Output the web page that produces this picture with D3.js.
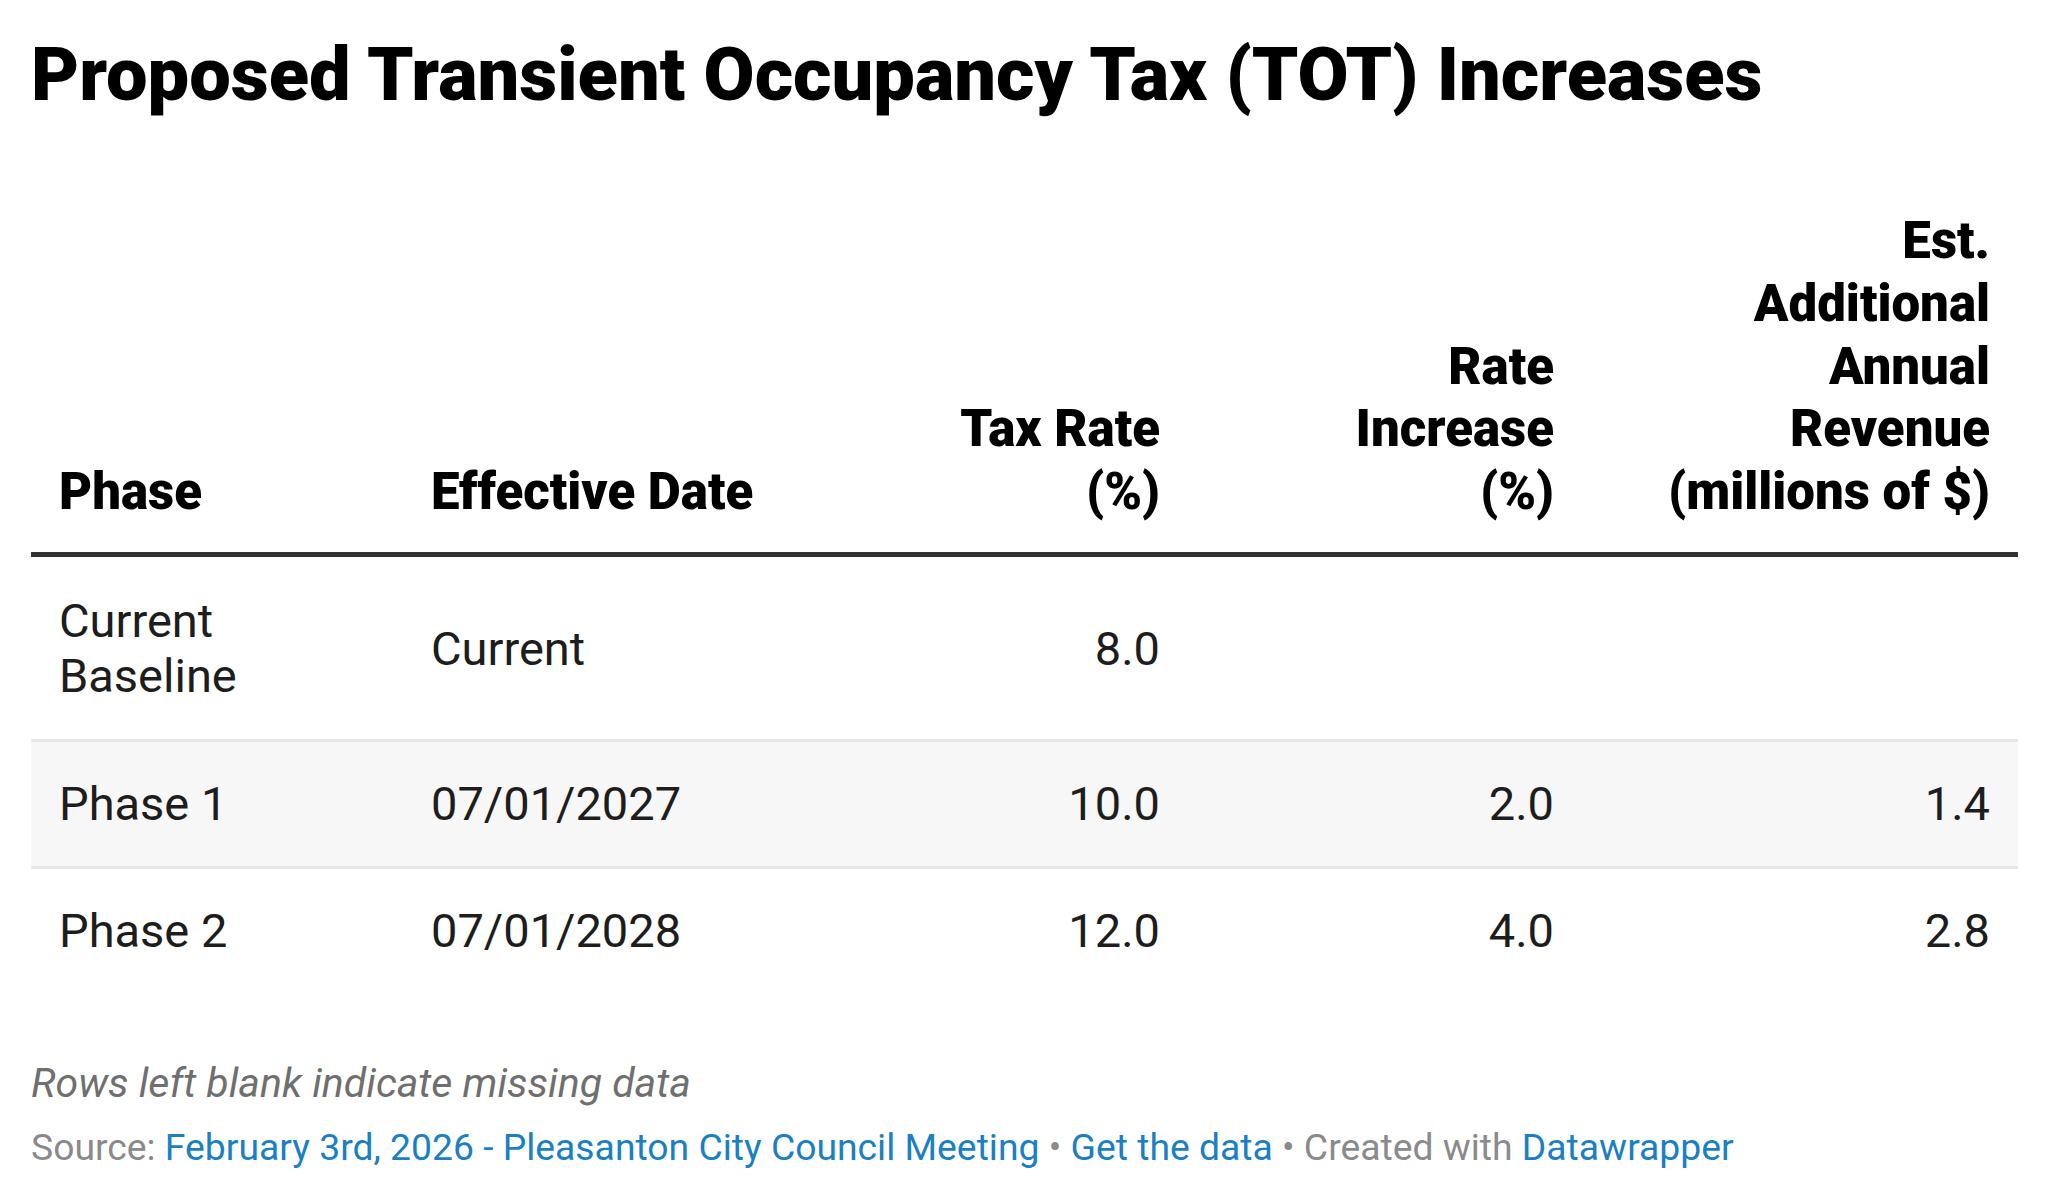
<!DOCTYPE html>
<html><head><meta charset="utf-8">
<script src="https://cdn.jsdelivr.net/npm/d3@7"></script>
<style>body{margin:0;background:#fff}svg{display:block}text{font-family:Roboto,sans-serif}</style>
</head><body><svg id="c" width="2048" height="1198"></svg>
<script>
const title = "Proposed Transient Occupancy Tax (TOT) Increases";
const columns = [["Phase"],["Effective Date"],["Tax Rate","(%)"],["Rate","Increase","(%)"],["Est.","Additional","Annual","Revenue","(millions of $)"]];
const phases = [["Current","Baseline"],["Phase 1"],["Phase 2"]];
const dates = ["Current","07/01/2027","07/01/2028"];
const taxRate = [8.0,10.0,12.0];
const rateIncrease = [null,2.0,4.0];
const revenue = [null,1.4,2.8];
const note = "Rows left blank indicate missing data";

const svg = d3.select("#c");
const colX = [59,431,1160,1554,1990];
const colAnchor = ["start","start","end","end","end"];
svg.append("text").attr("x",31).attr("y",100).attr("font-size",74).attr("font-weight",900).attr("fill","#000").text(title);

// header
const hLine = 62.7, hBase = 509;
columns.forEach((lines,i)=>{
  const n=lines.length;
  lines.forEach((l,j)=>{
    svg.append("text").attr("x",colX[i]).attr("y",hBase-(n-1-j)*hLine)
      .attr("text-anchor",colAnchor[i]).attr("font-size",51).attr("font-weight",900).attr("fill","#000").text(l);
  });
});
svg.append("rect").attr("x",31).attr("y",552).attr("width",1987).attr("height",5).attr("fill","#333");

// rows
const rowTop=[557,740,867], rowBot=[740,867,995];
const y = d3.scaleOrdinal().domain([0,1,2]).range([0,1,2].map(i=>(rowTop[i]+rowBot[i])/2));
[0,1,2].forEach(i=>{
  if(i===1) svg.append("rect").attr("x",31).attr("y",rowTop[i]).attr("width",1987).attr("height",rowBot[i]-rowTop[i]).attr("fill","#f7f7f7");
  if(i>0) svg.append("rect").attr("x",31).attr("y",rowTop[i]-1).attr("width",1987).attr("height",3).attr("fill","#e6e6e6");
  const cy=y(i);
  const cells=[phases[i],[dates[i]],[d3.format(".1f")(taxRate[i])],
    [rateIncrease[i]==null?"":d3.format(".1f")(rateIncrease[i])],
    [revenue[i]==null?"":d3.format(".1f")(revenue[i])]];
  cells.forEach((lines,c)=>{
    const n=lines.length, lh=55;
    lines.forEach((l,j)=>{
      svg.append("text").attr("x",colX[c]).attr("y",cy+(j-(n-1)/2)*lh).attr("dy","0.35em")
        .attr("text-anchor",colAnchor[c]).attr("font-size",47).attr("fill","#1d1d1d").text(l);
    });
  });
});

svg.append("text").attr("x",31).attr("y",1097).attr("font-size",41).attr("font-style","italic").attr("fill","#6f6f6f").text(note);
const src = svg.append("text").attr("x",31).attr("y",1160).attr("font-size",37.3);
[["Source: ","#8a8a8a"],["February 3rd, 2026 - Pleasanton City Council Meeting","#1a7fc4"],[" • ","#8a8a8a"],["Get the data","#1a7fc4"],[" • Created with ","#8a8a8a"],["Datawrapper","#1a7fc4"]]
 .forEach(([t,c])=>src.append("tspan").attr("fill",c).text(t));
</script></body></html>
